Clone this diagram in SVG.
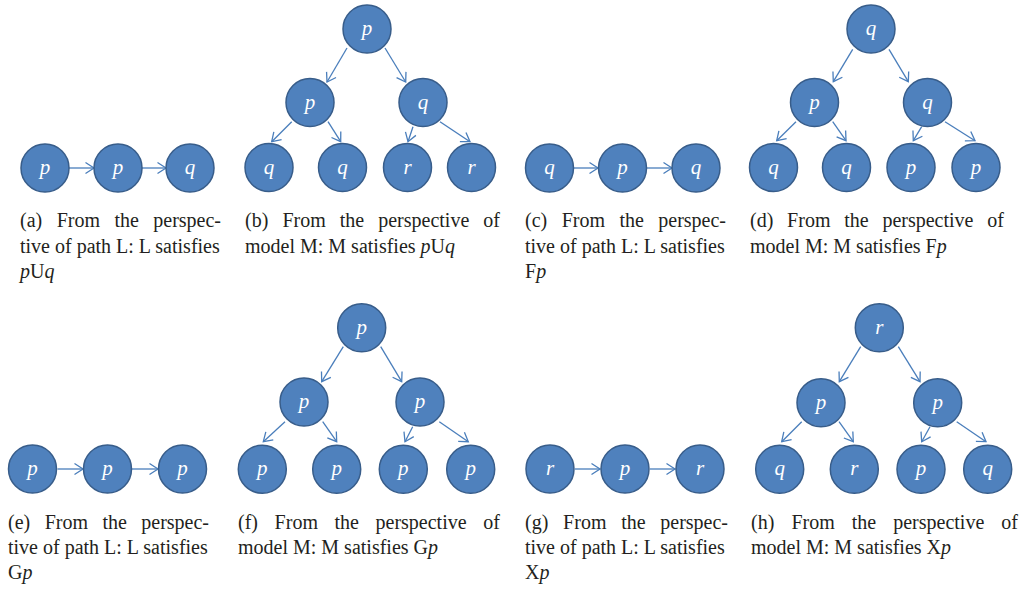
<svg xmlns="http://www.w3.org/2000/svg" width="1022" height="590" viewBox="0 0 1022 590">
<style>
.node circle{fill:#4F81BD;stroke:#385D8A;stroke-width:1.5}
.node text{font-family:"Liberation Serif",serif;font-style:italic;font-size:21px;fill:#fff;text-anchor:middle}
.conn path{fill:none;stroke:#4A7EBB;stroke-width:1.3;marker-end:url(#ah)}
.cap{font-family:"Liberation Serif",serif;font-size:20px;fill:#231F20}
.it{font-style:italic}
.e{text-anchor:end}
</style>
<defs>
<marker id="ah" markerUnits="userSpaceOnUse" markerWidth="14" markerHeight="14" refX="11" refY="7" orient="auto">
<path d="M2.5,1.5 L11,7 L2.5,12.5" fill="none" stroke="#4A7EBB" stroke-width="1.3"/>
</marker>
</defs>
<rect width="1022" height="590" fill="#fff"/>

<g id="connectors" class="conn">
<path d="M69,168 L94,168"/><path d="M142,168 L166,168"/>
<path d="M347,48 L327,82"/><path d="M385,48 L405.7,82"/><path d="M291.7,121.7 L271.7,141.7"/><path d="M328,121.7 L340.7,141.7"/><path d="M413,126.7 L408,141.7"/><path d="M440,121.7 L470,141.7"/>
<path d="M574,168 L598,168"/><path d="M647,168 L672,168"/>
<path d="M852.7,49.3 L833.3,81.7"/><path d="M889,49.3 L908.3,81.7"/><path d="M796,121.7 L776.7,140.7"/><path d="M832.7,121.7 L846,140.7"/><path d="M921.7,126.7 L913.3,140.7"/><path d="M945,121.7 L975,140.7"/>
<path d="M57.5,469 L83,469"/><path d="M132,469 L158,469"/>
<path d="M343.3,346.7 L321.7,381.7"/><path d="M380.7,346.7 L401.7,381.7"/><path d="M285,421.7 L263.3,441.7"/><path d="M322.7,421.7 L336.7,441.7"/><path d="M412.7,426.7 L405,441.7"/><path d="M439.3,421.7 L468.3,441.7"/>
<path d="M575,469 L600,469"/><path d="M650,469 L675,469"/>
<path d="M860.7,346.7 L839.3,381.7"/><path d="M898.3,346.7 L920,381.7"/><path d="M801.7,421.7 L781.7,441.7"/><path d="M839,421.7 L853.3,441.7"/><path d="M930,426.7 L921.7,441.7"/><path d="M956.7,421.7 L986,441.7"/>
</g>

<!-- (a) -->
<g id="a1" class="node"><circle cx="45" cy="168" r="24"/><text x="45" y="174">p</text></g>
<g id="a2" class="node"><circle cx="118" cy="168" r="24"/><text x="118" y="174">p</text></g>
<g id="a3" class="node"><circle cx="190" cy="168" r="24"/><text x="190" y="174">q</text></g>
<!-- (b) -->
<g id="b1" class="node"><circle cx="367" cy="29" r="24"/><text x="367" y="35">p</text></g>
<g id="b2" class="node"><circle cx="310" cy="102.5" r="24"/><text x="310" y="108.5">p</text></g>
<g id="b3" class="node"><circle cx="423" cy="102.5" r="24"/><text x="423" y="108.5">q</text></g>
<g id="b4" class="node"><circle cx="269" cy="167.5" r="24"/><text x="269" y="173.5">q</text></g>
<g id="b5" class="node"><circle cx="342.5" cy="167.5" r="24"/><text x="342.5" y="173.5">q</text></g>
<g id="b6" class="node"><circle cx="407.5" cy="167.5" r="24"/><text x="407.5" y="173.5">r</text></g>
<g id="b7" class="node"><circle cx="471.5" cy="167.5" r="24"/><text x="471.5" y="173.5">r</text></g>
<!-- (c) -->
<g id="c1" class="node"><circle cx="549.5" cy="168" r="24"/><text x="549.5" y="174">q</text></g>
<g id="c2" class="node"><circle cx="622.5" cy="168" r="24"/><text x="622.5" y="174">p</text></g>
<g id="c3" class="node"><circle cx="696" cy="168" r="24"/><text x="696" y="174">q</text></g>
<!-- (d) -->
<g id="d1" class="node"><circle cx="871" cy="29" r="24"/><text x="871" y="35">q</text></g>
<g id="d2" class="node"><circle cx="814.5" cy="102.5" r="24"/><text x="814.5" y="108.5">p</text></g>
<g id="d3" class="node"><circle cx="927.5" cy="102.5" r="24"/><text x="927.5" y="108.5">q</text></g>
<g id="d4" class="node"><circle cx="773.5" cy="167.5" r="24"/><text x="773.5" y="173.5">q</text></g>
<g id="d5" class="node"><circle cx="846.5" cy="167.5" r="24"/><text x="846.5" y="173.5">q</text></g>
<g id="d6" class="node"><circle cx="911" cy="167.5" r="24"/><text x="911" y="173.5">p</text></g>
<g id="d7" class="node"><circle cx="976" cy="167.5" r="24"/><text x="976" y="173.5">p</text></g>
<!-- (e) -->
<g id="e1" class="node"><circle cx="32.5" cy="469" r="24"/><text x="32.5" y="475">p</text></g>
<g id="e2" class="node"><circle cx="107.5" cy="469" r="24"/><text x="107.5" y="475">p</text></g>
<g id="e3" class="node"><circle cx="182.5" cy="469" r="24"/><text x="182.5" y="475">p</text></g>
<!-- (f) -->
<g id="f1" class="node"><circle cx="361.7" cy="327.7" r="24"/><text x="361.7" y="333.7">p</text></g>
<g id="f2" class="node"><circle cx="304" cy="402" r="24"/><text x="304" y="408">p</text></g>
<g id="f3" class="node"><circle cx="420" cy="402" r="24"/><text x="420" y="408">p</text></g>
<g id="f4" class="node"><circle cx="262.3" cy="469.3" r="24"/><text x="262.3" y="475.3">p</text></g>
<g id="f5" class="node"><circle cx="336.7" cy="469.3" r="24"/><text x="336.7" y="475.3">p</text></g>
<g id="f6" class="node"><circle cx="403.3" cy="469.3" r="24"/><text x="403.3" y="475.3">p</text></g>
<g id="f7" class="node"><circle cx="470.7" cy="469.3" r="24"/><text x="470.7" y="475.3">p</text></g>
<!-- (g) -->
<g id="g1" class="node"><circle cx="550" cy="469" r="24"/><text x="550" y="475">r</text></g>
<g id="g2" class="node"><circle cx="625" cy="469" r="24"/><text x="625" y="475">p</text></g>
<g id="g3" class="node"><circle cx="700" cy="469" r="24"/><text x="700" y="475">r</text></g>
<!-- (h) -->
<g id="h1" class="node"><circle cx="879.3" cy="327.7" r="24"/><text x="879.3" y="333.7">r</text></g>
<g id="h2" class="node"><circle cx="821" cy="402.7" r="24"/><text x="821" y="408.7">p</text></g>
<g id="h3" class="node"><circle cx="937.7" cy="402.7" r="24"/><text x="937.7" y="408.7">p</text></g>
<g id="h4" class="node"><circle cx="779.7" cy="469.3" r="24"/><text x="779.7" y="475.3">q</text></g>
<g id="h5" class="node"><circle cx="854.3" cy="469.3" r="24"/><text x="854.3" y="475.3">r</text></g>
<g id="h6" class="node"><circle cx="921" cy="469.3" r="24"/><text x="921" y="475.3">p</text></g>
<g id="h7" class="node"><circle cx="987.7" cy="469.3" r="24"/><text x="987.7" y="475.3">q</text></g>

<g id="captions" class="cap">
<!-- a -->
<text x="20" y="227">(a)</text><text x="56.7" y="227">From</text><text x="114.5" y="227">the</text><text class="e" x="221" y="227">perspec-</text>
<text x="20" y="252.5">tive of path L: L satisfies</text>
<text x="20" y="278"><tspan class="it">p</tspan>U<tspan class="it">q</tspan></text>
<!-- b -->
<text x="245" y="227">(b)</text><text x="282.4" y="227">From</text><text x="339.7" y="227">the</text><text x="378.2" y="227">perspective</text><text class="e" x="500" y="227">of</text>
<text x="245" y="252.5">model M: M satisfies <tspan class="it">p</tspan>U<tspan class="it">q</tspan></text>
<!-- c -->
<text x="525" y="227">(c)</text><text x="561.7" y="227">From</text><text x="619.5" y="227">the</text><text class="e" x="726" y="227">perspec-</text>
<text x="525" y="252.5">tive of path L: L satisfies</text>
<text x="525" y="278">F<tspan class="it">p</tspan></text>
<!-- d -->
<text x="750" y="227">(d)</text><text x="787.1" y="227">From</text><text x="844.2" y="227">the</text><text x="882.4" y="227">perspective</text><text class="e" x="1004" y="227">of</text>
<text x="750" y="252.5">model M: M satisfies F<tspan class="it">p</tspan></text>
<!-- e -->
<text x="8" y="529">(e)</text><text x="44.7" y="529">From</text><text x="102.5" y="529">the</text><text class="e" x="209" y="529">perspec-</text>
<text x="8" y="554">tive of path L: L satisfies</text>
<text x="8" y="579">G<tspan class="it">p</tspan></text>
<!-- f -->
<text x="238" y="529">(f)</text><text x="274.6" y="529">From</text><text x="334.5" y="529">the</text><text x="375.5" y="529">perspective</text><text class="e" x="500" y="529">of</text>
<text x="238" y="554">model M: M satisfies G<tspan class="it">p</tspan></text>
<!-- g -->
<text x="525" y="529">(g)</text><text x="563.1" y="529">From</text><text x="621.2" y="529">the</text><text class="e" x="728" y="529">perspec-</text>
<text x="525" y="554">tive of path L: L satisfies</text>
<text x="525" y="579">X<tspan class="it">p</tspan></text>
<!-- h -->
<text x="751" y="529">(h)</text><text x="791.4" y="529">From</text><text x="851.7" y="529">the</text><text x="893.2" y="529">perspective</text><text class="e" x="1018" y="529">of</text>
<text x="751" y="554">model M: M satisfies X<tspan class="it">p</tspan></text>
</g>
</svg>
